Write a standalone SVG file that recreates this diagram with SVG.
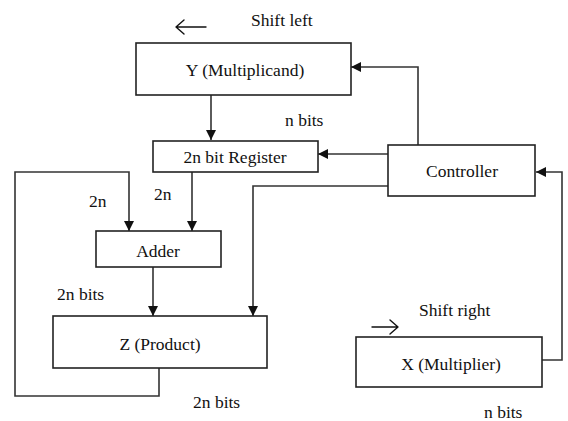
<svg xmlns="http://www.w3.org/2000/svg" width="568" height="421" viewBox="0 0 568 421">
<style>
.box{fill:#fff;stroke:#222;stroke-width:1.6}
.t{font-family:'Liberation Serif','Times New Roman',Times,serif;font-size:17.5px;fill:#111}
.c{text-anchor:middle}
.w{fill:none;stroke:#333;stroke-width:1.6}
.s{fill:none;stroke:#111;stroke-width:1.4;stroke-linecap:round;stroke-linejoin:round}
</style>
<defs>
<marker id="ah" markerWidth="10" markerHeight="10" refX="10" refY="5" orient="auto" markerUnits="userSpaceOnUse">
<path d="M0,0 L10,5 L0,10 Z" fill="#111"/>
</marker>
</defs>
<rect width="568" height="421" fill="#fff"/>
<g id="connectors">
<path class="w" d="M211,95 V140" marker-end="url(#ah)"/>
<path class="w" d="M418,145 V67 H351" marker-end="url(#ah)"/>
<path class="w" d="M388,154 H318" marker-end="url(#ah)"/>
<path class="w" d="M388,186 H253 V316" marker-end="url(#ah)"/>
<path class="w" d="M542,360 H562 V172 H536" marker-end="url(#ah)"/>
<path class="w" d="M192,172 V231" marker-end="url(#ah)"/>
<path class="w" d="M159,368 V396 H15 V172 H129 V231" marker-end="url(#ah)"/>
<path class="w" d="M153,267 V316" marker-end="url(#ah)"/>
</g>
<g id="shift-left">
<path class="s" d="M206,27 H176 M184,20 L176,27 L184,34"/>
<text class="t" x="251" y="26">Shift left</text>
</g>
<g id="Y">
<rect class="box" x="136" y="43" width="215" height="52"/>
<text class="t c" x="245" y="76">Y (Multiplicand)</text>
</g>
<text class="t" x="285" y="126">n bits</text>
<g id="register">
<rect class="box" x="153" y="141" width="165" height="31"/>
<text class="t c" x="235" y="163">2n bit Register</text>
</g>
<g id="controller">
<rect class="box" x="388" y="145" width="147" height="51"/>
<text class="t c" x="462" y="177">Controller</text>
</g>
<text class="t" x="89" y="207">2n</text>
<text class="t" x="154" y="200">2n</text>
<g id="adder">
<rect class="box" x="96" y="231" width="125" height="36"/>
<text class="t c" x="158" y="257">Adder</text>
</g>
<text class="t" x="57" y="300">2n bits</text>
<g id="Z">
<rect class="box" x="53" y="316" width="214" height="52"/>
<text class="t c" x="160" y="350">Z (Product)</text>
</g>
<text class="t" x="193" y="408">2n bits</text>
<g id="shift-right">
<path class="s" d="M372,327 H398 M390,320 L398,327 L390,334"/>
<text class="t" x="419" y="316">Shift right</text>
</g>
<g id="X">
<rect class="box" x="356" y="337" width="186" height="50"/>
<text class="t c" x="451" y="370">X (Multiplier)</text>
</g>
<text class="t" x="484" y="418">n bits</text>
</svg>
